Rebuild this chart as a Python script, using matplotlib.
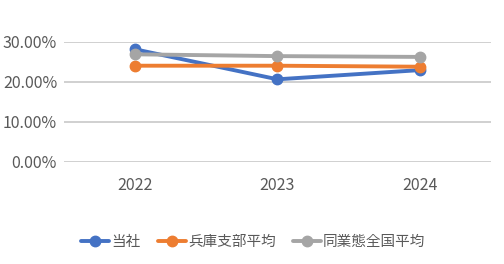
import matplotlib
matplotlib.use("Agg")
import matplotlib.pyplot as plt
from matplotlib.ticker import FuncFormatter

plt.rcParams['font.family'] = ['Noto Sans CJK JP', 'DejaVu Sans']

years = ["2022", "2023", "2024"]
tousha = [0.281, 0.206, 0.229]
hyogo_avg = [0.240, 0.240, 0.2375]
zenkoku_avg = [0.2685, 0.264, 0.262]

series = [
    ("当社", tousha, "#4472C4"),
    ("兵庫支部平均", hyogo_avg, "#ED7D31"),
    ("同業態全国平均", zenkoku_avg, "#A5A5A5"),
]

fig = plt.figure(figsize=(5.04, 2.64), dpi=100)
ax = fig.add_axes([0.127, 0.3875, 0.847, 0.4545])

x = list(range(len(years)))
for name, vals, col in series:
    ax.plot(x, vals, color=col, lw=2.8, marker="o", ms=7.5, label=name,
            solid_capstyle="round", clip_on=False)

ax.set_xlim(-0.5, 2.5)
ax.set_ylim(0, 0.30)
ax.set_yticks([0, 0.10, 0.20, 0.30])
ax.yaxis.set_major_formatter(FuncFormatter(lambda v, p: f"{v*100:.2f}%"))
ax.set_xticks(x)
ax.set_xticklabels(years)
ax.grid(axis="y", color="#C4C4C4", lw=1.1)
ax.set_axisbelow(True)
for s in ax.spines.values():
    s.set_visible(False)
ax.tick_params(length=0, labelsize=11.5, colors="#595959", pad=5)
ax.tick_params(axis="x", pad=11)

leg = fig.legend(loc="center", bbox_to_anchor=(0.503, 0.083), ncol=3,
                 frameon=False, fontsize=10.5, handlelength=1.9,
                 handletextpad=0.15, columnspacing=1.2, labelcolor="#595959")

fig.savefig("out.png", dpi=100)
